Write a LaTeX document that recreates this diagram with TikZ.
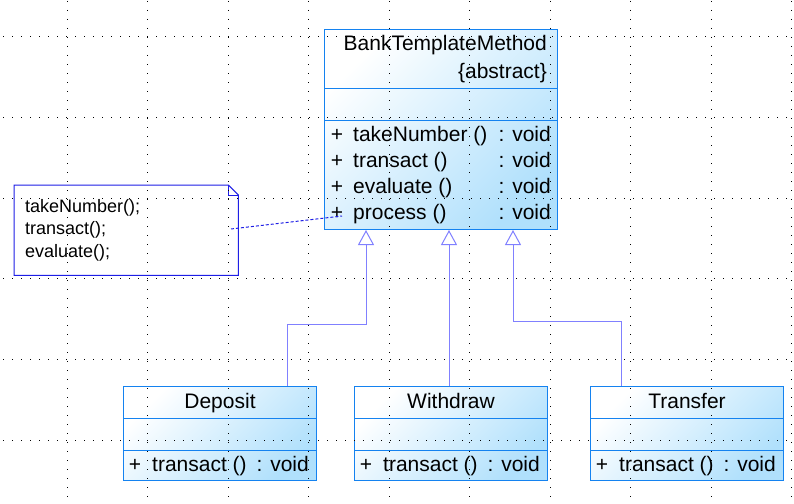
\documentclass[tikz,border=0pt]{standalone}
\usepackage{fontspec}
\setmainfont{Liberation Sans}
\usetikzlibrary{arrows.meta,positioning,calc}
\definecolor{clsborder}{RGB}{20,130,240}
\definecolor{clsfill}{RGB}{176,224,252}
\definecolor{linkcol}{RGB}{128,128,255}
\definecolor{noteborder}{RGB}{30,30,230}

\begin{document}
\begin{tikzpicture}[x=1pt,y=-1pt,
    classbox/.style={draw=clsborder, line width=1pt, top color=white, bottom color=clsfill,
      shading angle=45, anchor=north west, inner sep=0pt},
    sepline/.style={draw=clsborder, line width=1pt},
    txt/.style={inner sep=0pt, font=\fontsize{21}{25}\selectfont},
    notetxt/.style={inner sep=0pt, anchor=base west, font=\fontsize{18}{22}\selectfont},
    inherit/.style={draw=linkcol, line width=1pt, -{Triangle[open, length=15pt, width=16pt]}},
    griddots/.style={line width=1pt, dash pattern=on 1pt off 8pt}]
  \fill[white] (0,0) rectangle (794,503);
  \useasboundingbox (0,0) rectangle (794,503);

  \node[classbox, minimum width=233, minimum height=200] (bank) at (324,29) {};
  \draw[sepline] (bank.west |- 0,88) -- (bank.east |- 0,88);
  \draw[sepline] (bank.west |- 0,120) -- (bank.east |- 0,120);
  \node[txt, anchor=base east] (bankname) at (547,50) {BankTemplateMethod};
  \node[txt, anchor=base east] (bankabs) at (547,78) {\{abstract\}};
  \foreach \op [count=\i] in {takeNumber (), transact (), evaluate (), process ()} {
    \node[txt, anchor=base] (plus\i) at (337,115+26*\i) {+};
    \node[txt, anchor=base west] (op\i) at (353,115+26*\i) {\op};
    \node[txt, anchor=base east] (void\i) at (551,115+26*\i) {: void};
  }

  \foreach \cname/\cx in {Deposit/123, Withdraw/354, Transfer/590} {
    \node[classbox, minimum width=193, minimum height=94] (\cname) at (\cx,386) {};
    \draw[sepline] (\cname.west |- 0,418) -- (\cname.east |- 0,418);
    \draw[sepline] (\cname.west |- 0,450) -- (\cname.east |- 0,450);
    \node[txt, anchor=base] (t\cname) at (\cname.north |- 0,408) {\cname};
    \node[txt, anchor=base] (p\cname) at (\cx+12,471) {+};
    \node[txt, anchor=base west] (o\cname) at (\cx+29,471) {transact ()};
    \node[txt, anchor=base east] (v\cname) at (\cx+186,471) {: void};
  }

  \node[minimum width=224, minimum height=90, anchor=north west, inner sep=0pt] (note) at (14,185) {};
  \draw[noteborder, line width=1pt, fill=white] (note.north west) -- ([xshift=-10pt]note.north east)
    -- ([yshift=-10pt]note.north east) -- (note.south east) -- (note.south west) -- cycle;
  \draw[noteborder, line width=1pt] ([xshift=-10pt]note.north east) |- ([yshift=-10pt]note.north east);
  \node[notetxt] (note1) at (25,212) {takeNumber();};
  \node[notetxt] (note2) at (25,234) {transact();};
  \node[notetxt] (note3) at (25,257) {evaluate();};

  \coordinate (notelink) at (231,229);
  \coordinate (banklink) at (342,216);
  \draw[noteborder, line width=1pt, dash pattern=on 3pt off 2pt] (notelink) -- (banklink);

  \draw[inherit] (Deposit.north -| 287,0) |- (366,324) -- (bank.south -| 366,0);
  \draw[inherit] (Withdraw.north -| 449,0) -- (bank.south -| 449,0);
  \draw[inherit] (Transfer.north -| 621,0) |- (513,321) -- (bank.south -| 513,0);

  \foreach \k in {0,...,9}
    \draw[griddots] (67+80.5*\k,1) -- (67+80.5*\k,503);
  \foreach \k in {0,...,5}
    \draw[griddots] (3,37+80.6*\k) -- (794,37+80.6*\k);
\end{tikzpicture}
\end{document}
